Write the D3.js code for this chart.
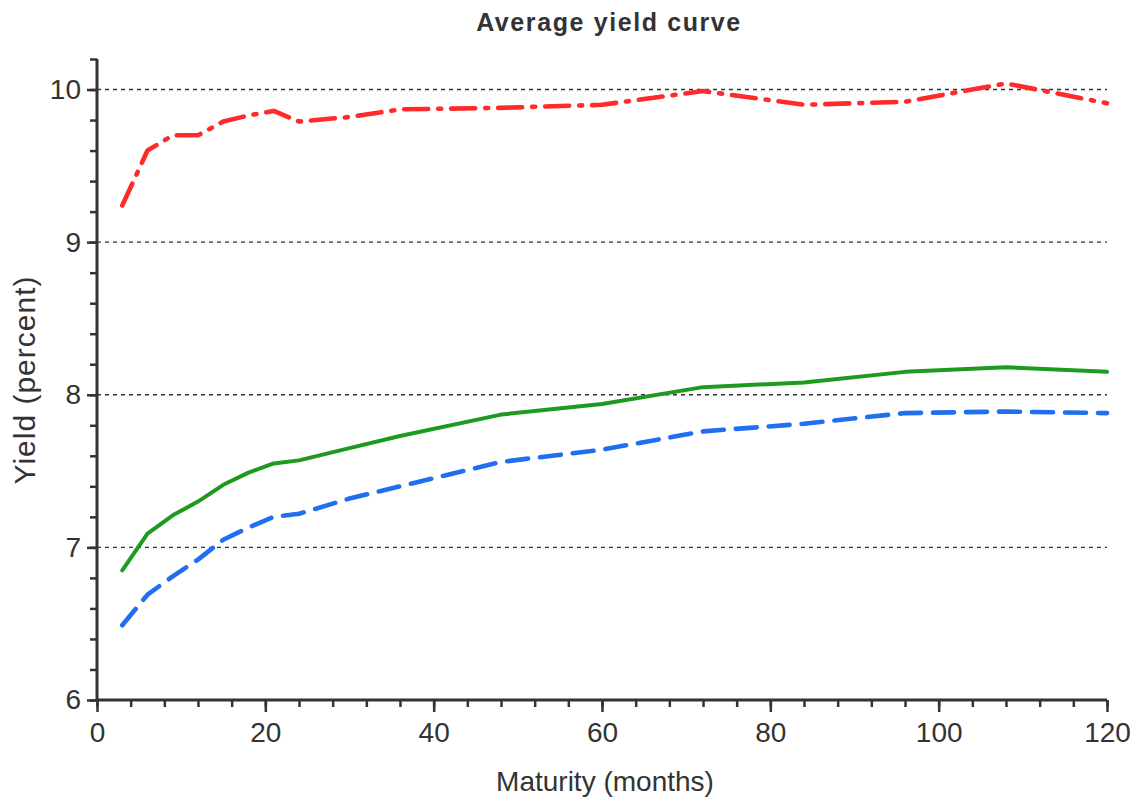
<!DOCTYPE html>
<html>
<head>
<meta charset="utf-8">
<script src="https://cdn.jsdelivr.net/npm/d3@7"></script>
<style>
  body { margin: 0; background: #fff; }
  text { font-family: "Liberation Sans Narrow", "Arial Narrow", "Liberation Sans", sans-serif; fill: #333; }
</style>
</head>
<body>
<svg id="chart"></svg>
<script>
// maturities in months
const maturities = [3, 6, 9, 12, 15, 18, 21, 24, 30, 36, 48, 60, 72, 84, 96, 108, 120];
// average yields (percent), one series per line
const redYields   = [9.24, 9.60, 9.70, 9.70, 9.79, 9.83, 9.86, 9.79, 9.82, 9.87, 9.88, 9.90, 9.99, 9.90, 9.92, 10.04, 9.91];
const greenYields = [6.85, 7.09, 7.21, 7.30, 7.41, 7.49, 7.55, 7.57, 7.65, 7.73, 7.87, 7.94, 8.05, 8.08, 8.15, 8.18, 8.15];
const blueYields  = [6.49, 6.69, 6.81, 6.92, 7.05, 7.13, 7.20, 7.22, 7.32, 7.40, 7.56, 7.64, 7.76, 7.81, 7.88, 7.89, 7.88];
const xTicks = [0, 20, 40, 60, 80, 100, 120];
const yTicks = [6, 7, 8, 9, 10];
const gridValues = [7, 8, 9, 10];

const svgWidth = 1137, svgHeight = 804;
const margin = { top: 59, right: 30, bottom: 104, left: 97 };
const width = 1107 - margin.left;
const height = 700 - margin.top;

let svg = d3.select('#chart')
    .attr("width", svgWidth)
    .attr("height", svgHeight);

let g = svg.append("g")
    .attr("transform", "translate(" + margin.left + "," + margin.top + ")");

let x = d3.scaleLinear().domain([0, 120]).range([0, width]);
let y = d3.scaleLinear().domain([6, 10.2]).range([height, 0]);

// dashed grid lines
g.selectAll(".grid")
    .data(gridValues)
    .enter().append("line")
    .attr("x1", 0).attr("x2", width)
    .attr("y1", d => y(d)).attr("y2", d => y(d))
    .attr("stroke", "#333")
    .attr("stroke-width", 1.3)
    .attr("stroke-dasharray", "4,4");

// x axis: minor ticks then major
let xAxis = g.append("g").attr("transform", "translate(0," + height + ")");
xAxis.call(d3.axisBottom(x).tickValues(d3.range(0, 121, 4)).tickSize(7).tickFormat(""))
    .call(a => a.select(".domain").remove());
xAxis.append("g")
    .call(d3.axisBottom(x).tickValues(xTicks).tickSize(12).tickPadding(10).tickFormat(d3.format("d")))
    .call(a => a.select(".domain").remove())
    .call(a => a.selectAll("text").attr("font-size", 28).attr("fill", "#333"));
xAxis.selectAll("line").attr("stroke", "#333").attr("stroke-width", 2.5);

// y axis
let yAxis = g.append("g");
yAxis.call(d3.axisLeft(y).tickValues(d3.range(6, 10.21, 0.2)).tickSize(7).tickFormat(""))
    .call(a => a.select(".domain").remove());
yAxis.append("g")
    .call(d3.axisLeft(y).tickValues(yTicks).tickSize(10).tickPadding(6).tickFormat(d3.format("d")))
    .call(a => a.select(".domain").remove())
    .call(a => a.selectAll("text").attr("font-size", 28).attr("fill", "#333"));
yAxis.selectAll("line").attr("stroke", "#333").attr("stroke-width", 2.5);

// axis lines
g.append("line").attr("x1", 0).attr("x2", 0).attr("y1", 0).attr("y2", height)
    .attr("stroke", "#333").attr("stroke-width", 3);
g.append("line").attr("x1", 0).attr("x2", width).attr("y1", height).attr("y2", height)
    .attr("stroke", "#333").attr("stroke-width", 3);

// lines
const series = [
    { values: redYields,   color: "#ff2a2a", dash: "24,10,3,10", width: 4.6 },
    { values: greenYields, color: "#1e9a1e", dash: null,         width: 4 },
    { values: blueYields,  color: "#1f6ff0", dash: "21,12",      width: 4.6 }
];

let line = d3.line()
    .x(d => x(d[0]))
    .y(d => y(d[1]));

series.forEach(s => {
    g.append("path")
        .datum(maturities.map((m, i) => [m, s.values[i]]))
        .attr("fill", "none")
        .attr("stroke", s.color)
        .attr("stroke-width", s.width)
        .attr("stroke-linejoin", "round")
        .attr("stroke-linecap", "round")
        .attr("stroke-dasharray", s.dash)
        .attr("d", line);
});

// title and axis labels
svg.append("text")
    .attr("x", 609).attr("y", 31)
    .attr("text-anchor", "middle")
    .attr("font-size", 25)
    .attr("font-weight", "bold")
    .attr("letter-spacing", 1.6)
    .attr("fill", "#111")
    .text("Average yield curve");

svg.append("text")
    .attr("x", 605).attr("y", 791)
    .attr("text-anchor", "middle")
    .attr("font-size", 28)
    .text("Maturity (months)");

svg.append("text")
    .attr("transform", "translate(35,380) rotate(-90)")
    .attr("text-anchor", "middle")
    .attr("font-size", 30)
    .attr("letter-spacing", 1)
    .text("Yield (percent)");
</script>
</body>
</html>
